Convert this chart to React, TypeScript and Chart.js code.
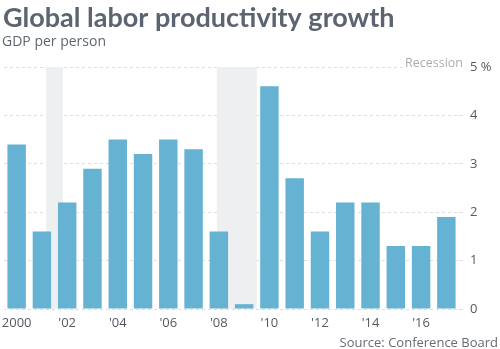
import React, { useEffect, useRef } from "react";
import { Chart, registerables } from "chart.js";

Chart.register(...registerables);

const years = [2000, 2001, 2002, 2003, 2004, 2005, 2006, 2007, 2008, 2009, 2010, 2011, 2012, 2013, 2014, 2015, 2016, 2017];
const growth = [3.4, 1.6, 2.2, 2.9, 3.5, 3.2, 3.5, 3.3, 1.6, 0.1, 4.6, 2.7, 1.6, 2.2, 2.2, 1.3, 1.3, 1.9];
const recessionStarts = [2001.17, 2007.92];
const recessionEnds = [2001.83, 2009.5];
const yTicks = [0, 1, 2, 3, 4, 5];

const TITLE = "Global labor productivity growth";
const SUBTITLE = "GDP per person";
const SOURCE = "Source: Conference Board";
const FONT = "'Open Sans', sans-serif";
const TITLE_FONT = "Lato, sans-serif";

export default function App() {
  const ref = useRef<HTMLCanvasElement>(null);
  useEffect(() => {
    document.body.style.margin = "0";
    const canvas = ref.current!;
    const recessionPlugin = {
      id: "recession",
      beforeDatasetsDraw(chart: any) {
        const { ctx, scales } = chart;
        const x = scales.x;
        const y = scales.y;
        ctx.save();
        ctx.fillStyle = "#eeeff1";
        for (let i = 0; i < recessionStarts.length; i++) {
          const x0 = x.getPixelForValue(recessionStarts[i] - years[0]);
          const x1 = x.getPixelForValue(recessionEnds[i] - years[0]);
          const top = y.getPixelForValue(5);
          const bot = y.getPixelForValue(0);
          ctx.fillRect(x0, top, x1 - x0, bot - top);
        }
        ctx.restore();
      },
      afterDraw(chart: any) {
        const { ctx, scales } = chart;
        ctx.save();
        ctx.textBaseline = "alphabetic";
        ctx.fillStyle = "#5b6470";
        ctx.textAlign = "left";
        ctx.font = `bold 27px ${TITLE_FONT}`;
        ctx.fillText(TITLE, 3, 27);
        ctx.font = `14px ${FONT}`;
        ctx.fillStyle = "#5f6670";
        ctx.fillText(SUBTITLE, 2, 46);
        ctx.font = `13px ${FONT}`;
        ctx.textAlign = "right";
        ctx.fillStyle = "#666b72";
        ctx.fillText(SOURCE, 498, 347);
        // Recession label
        const yTop = scales.y.getPixelForValue(5);
        ctx.fillStyle = "#ffffff";
        ctx.fillRect(403, yTop - 3, 64, 6);
        ctx.font = `12.5px ${FONT}`;
        ctx.fillStyle = "#a9adb2";
        ctx.textBaseline = "middle";
        ctx.fillText("Recession", 463, yTop - 4);
        ctx.restore();
      },
    };
    const chart = new Chart(canvas, {
      type: "bar",
      data: {
        labels: years.map(String),
        datasets: [
          {
            data: growth,
            backgroundColor: "#66b2d2",
            barPercentage: 0.73,
            categoryPercentage: 1,
          },
        ],
      },
      options: {
        animation: false,
        responsive: false,
        layout: { padding: { left: 4, right: 0, top: 67, bottom: 18 } },
        plugins: { legend: { display: false }, tooltip: { enabled: false }, title: { display: false } },
        scales: {
          x: {
            offset: true,
            grid: { display: false, drawTicks: false, tickLength: 0 },
            border: { display: false },
            afterFit: (axis: any) => {
              axis.height = 22;
              axis.paddingLeft = 0;
              axis.paddingRight = 0;
            },
            ticks: {
              autoSkip: false,
              maxRotation: 0,
              color: "#555a60",
              font: { family: FONT, size: 13 },
              padding: 6,
              callback: (v: any, i: number) => {
                const yr = years[i];
                if (yr % 2 !== 0) return "";
                return yr === 2000 ? "2000" : "'" + String(yr).slice(2);
              },
            },
          },
          y: {
            position: "right",
            min: 0,
            max: 5,
            afterBuildTicks: (axis: any) => {
              axis.ticks = yTicks.map((v) => ({ value: v }));
            },
            afterFit: (axis: any) => {
              axis.width = 41;
            },
            border: { display: false, dash: [3, 3] },
            grid: {
              color: "#dcdde0",
              tickLength: 4,
              drawTicks: true,
            },
            ticks: {
              color: "#555a60",
              font: { family: FONT, size: 13 },
              padding: 7,
              callback: (v: any) => (v === 5 ? "5 %" : String(v)),
            },
          },
        },
      },
      plugins: [recessionPlugin],
    });
    return () => chart.destroy();
  }, []);
  return <canvas ref={ref} width={500} height={349} style={{ display: "block" }} />;
}
